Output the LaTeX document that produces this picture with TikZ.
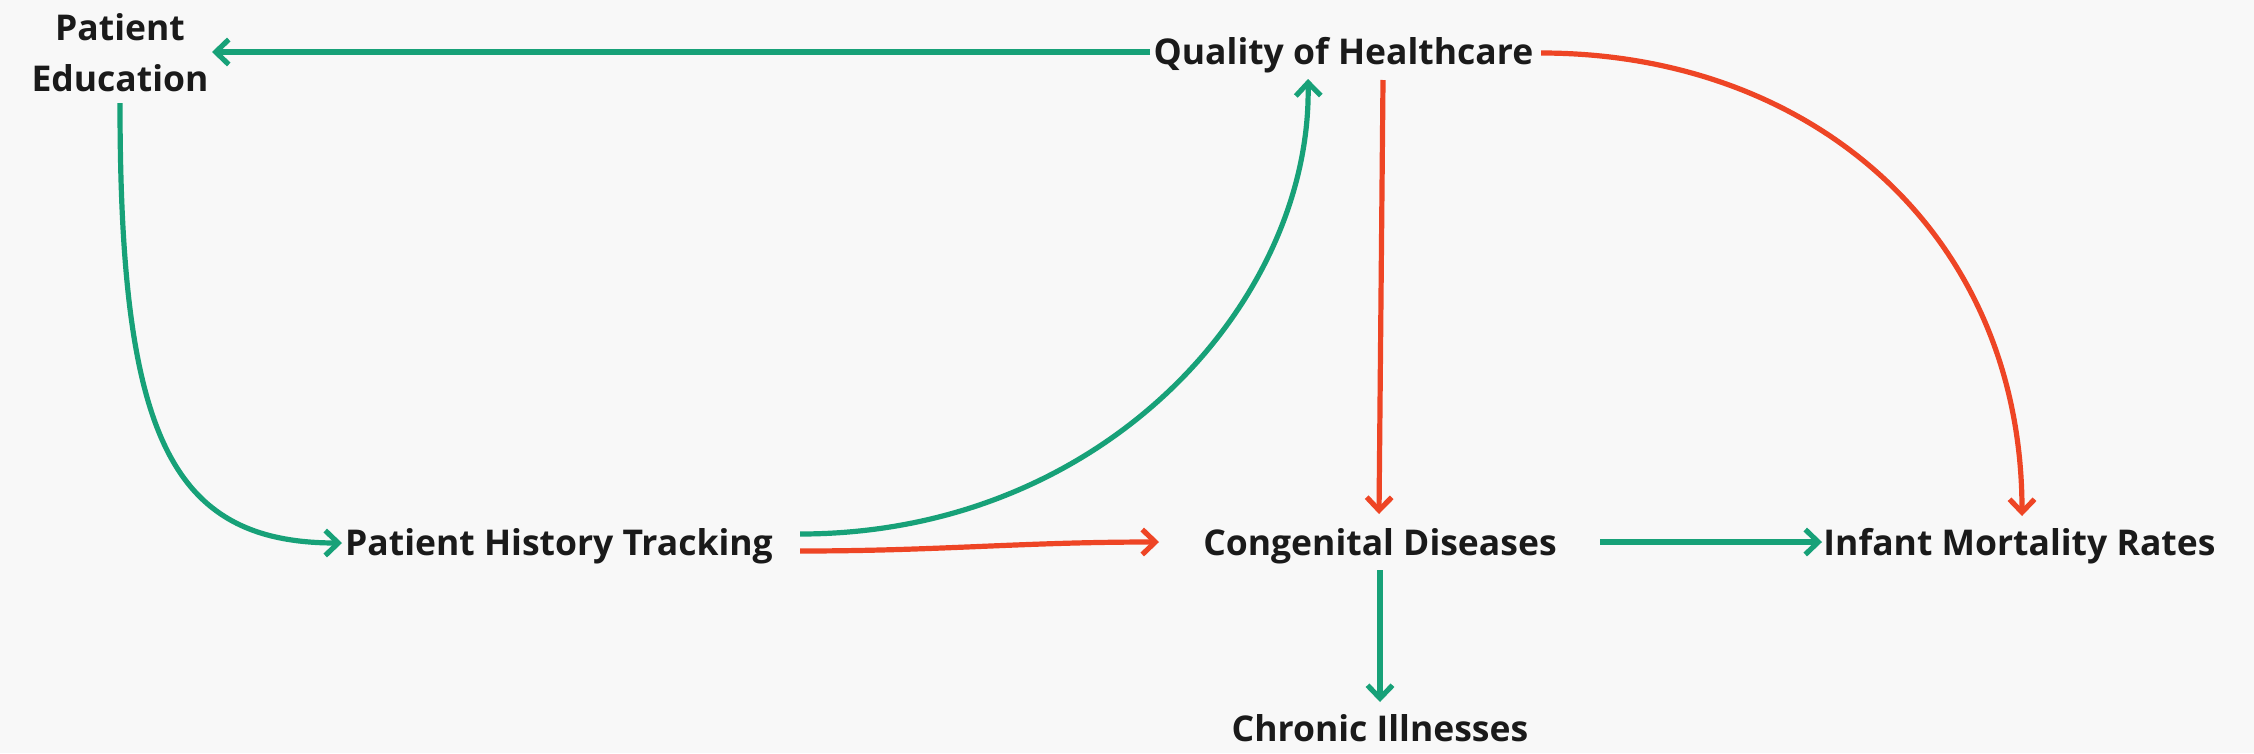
\documentclass[tikz,border=0pt]{standalone}
\usepackage{fontspec}
\setmainfont{Open Sans}
\usetikzlibrary{arrows.meta,calc}
\definecolor{bg}{HTML}{F8F8F8}
\definecolor{grn}{HTML}{17A178}
\definecolor{rd}{HTML}{EE4525}
\definecolor{ink}{HTML}{1A1A1A}
\begin{document}
\begin{tikzpicture}[x=1pt,y=-1pt,
  lbl/.style={font=\fontsize{35.5}{51}\selectfont\bfseries, text=ink, inner sep=0pt, anchor=base},
  gline/.style={draw=grn, line width=5.2pt, -{Straight Barb[length=13pt,width=25pt]}},
  rline/.style={draw=rd, line width=5.2pt, -{Straight Barb[length=13pt,width=25pt]}}]
\fill[bg] (0,0) rectangle (2254,753);
\useasboundingbox (0,0) rectangle (2254,753);
\node[lbl] (qoh) at (1343.5,64) {Quality of Healthcare};
\node[lbl, anchor=center, align=center] (pe) at (120,53) {Patient\\Education};
\node[lbl] (pht) at (559,555) {Patient History Tracking};
\node[lbl] (cd) at (1380,555) {Congenital Diseases};
\node[lbl] (imr) at (2019.5,555) {Infant Mortality Rates};
\node[lbl] (ci) at (1380,741) {Chronic Illnesses};
\draw[gline] ($(qoh.base)+(-193.5,-12)$) -- ($(pe.center)+(92,-1)$);
\draw[gline] ($(pe.center)+(0,50)$) .. controls ($(pe.center)+(0,380)$) and ($(pht.base)+(-390,-12)$) .. ($(pht.base)+(-217,-12)$);
\draw[gline] ($(pht.base)+(241,-21)$) .. controls ($(pht.base)+(546,-21)$) and ($(qoh.base)+(-31.5,236)$) .. ($(qoh.base)+(-35.5,15)$);
\draw[rline] ($(pht.base)+(241,-4)$) to[out=0,in=180] ($(cd.base)+(-221,-13)$);
\draw[rline] ($(qoh.base)+(39.5,16)$) -- ($(cd.base)+(-1,-41)$);
\draw[rline] ($(qoh.base)+(197.5,-11)$) .. controls ($(qoh.base)+(470,-11)$) and ($(imr.base)+(2.5,-320)$) .. ($(imr.base)+(2.5,-39)$);
\draw[gline] ($(cd.base)+(220,-13)$) -- ($(imr.base)+(-197.5,-13)$);
\draw[gline] ($(cd.base)+(0,15)$) -- ($(ci.base)+(0,-39)$);
\end{tikzpicture}
\end{document}
